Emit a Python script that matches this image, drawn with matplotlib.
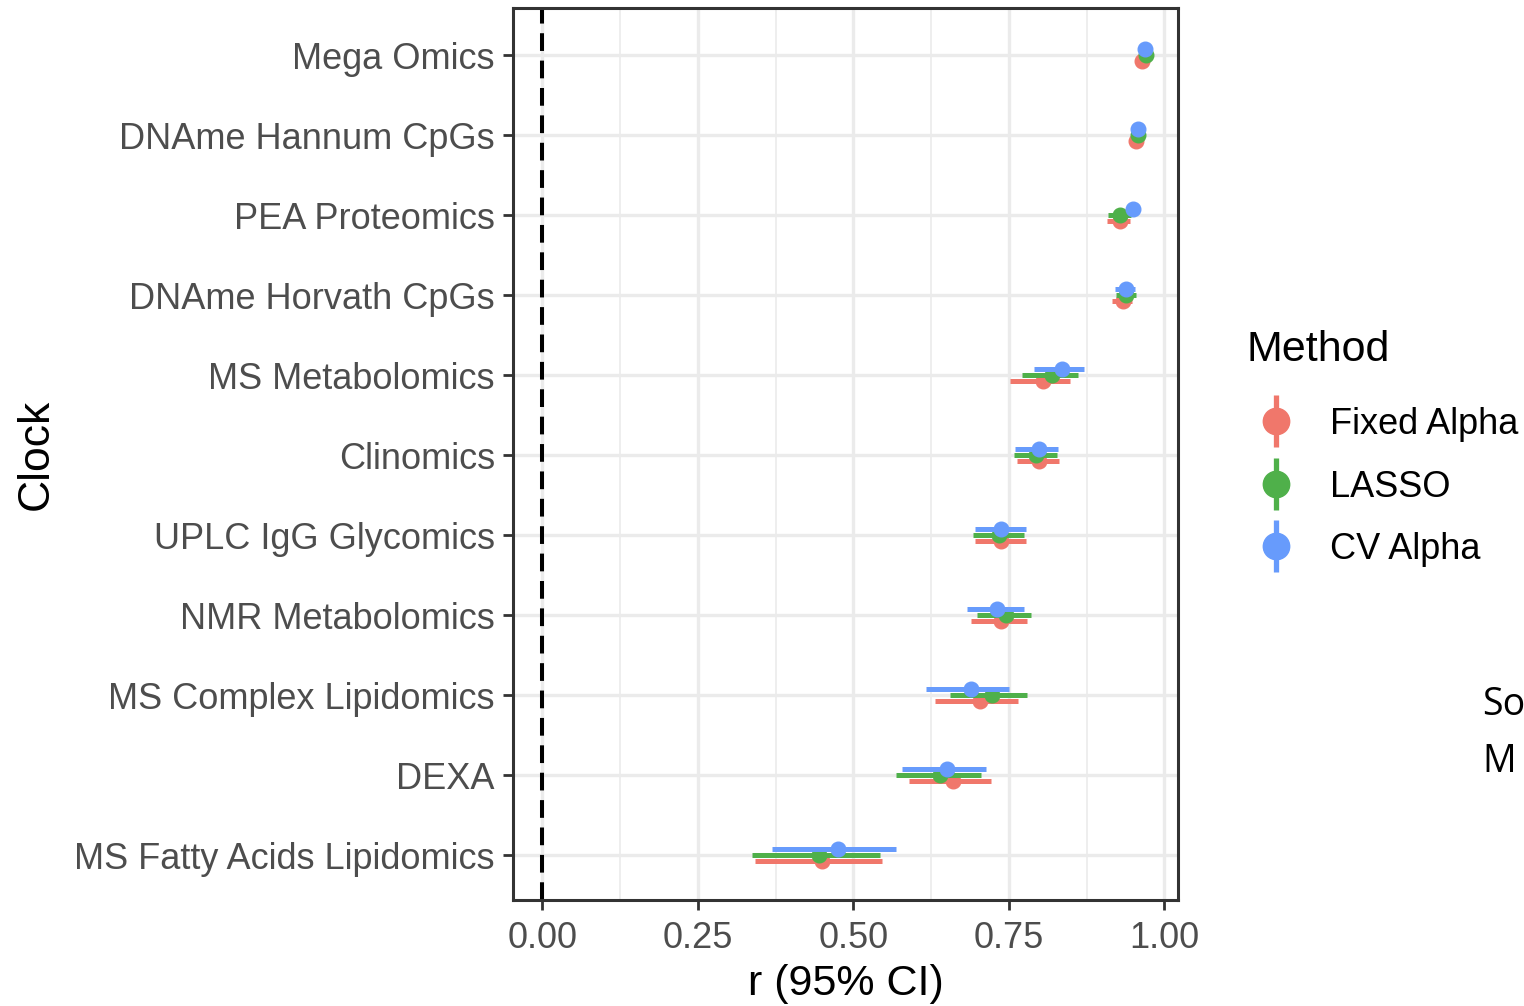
import matplotlib
matplotlib.use("Agg")
import matplotlib.pyplot as plt
from matplotlib.lines import Line2D
from matplotlib.legend_handler import HandlerTuple
import numpy as np

plt.rcParams['font.family'] = ['Liberation Sans', 'DejaVu Sans']

clocks = ["Mega Omics", "DNAme Hannum CpGs", "PEA Proteomics", "DNAme Horvath CpGs",
          "MS Metabolomics", "Clinomics", "UPLC IgG Glycomics", "NMR Metabolomics",
          "MS Complex Lipidomics", "DEXA", "MS Fatty Acids Lipidomics"]
methods = ["Fixed Alpha", "LASSO", "CV Alpha"]
colors = ["#F0776B", "#4FB04A", "#679BFC"]

fixed_r  = [0.964, 0.955, 0.928, 0.934, 0.805, 0.799, 0.738, 0.737, 0.703, 0.660, 0.450]
fixed_lo = [0.960, 0.951, 0.908, 0.916, 0.752, 0.763, 0.695, 0.690, 0.632, 0.589, 0.342]
fixed_hi = [0.968, 0.959, 0.945, 0.948, 0.848, 0.831, 0.778, 0.779, 0.764, 0.721, 0.546]

lasso_r  = [0.971, 0.958, 0.929, 0.939, 0.820, 0.794, 0.735, 0.746, 0.723, 0.640, 0.445]
lasso_lo = [0.968, 0.955, 0.909, 0.922, 0.772, 0.759, 0.692, 0.699, 0.656, 0.569, 0.337]
lasso_hi = [0.974, 0.961, 0.946, 0.954, 0.861, 0.827, 0.774, 0.786, 0.779, 0.706, 0.543]

cv_r  = [0.969, 0.957, 0.949, 0.938, 0.835, 0.798, 0.738, 0.731, 0.690, 0.651, 0.475]
cv_lo = [0.966, 0.954, 0.940, 0.921, 0.790, 0.760, 0.695, 0.683, 0.617, 0.579, 0.370]
cv_hi = [0.972, 0.960, 0.957, 0.953, 0.871, 0.829, 0.777, 0.774, 0.751, 0.713, 0.568]

series = [(fixed_r, fixed_lo, fixed_hi), (lasso_r, lasso_lo, lasso_hi), (cv_r, cv_lo, cv_hi)]
offsets = [0.07, 0.0, -0.07]

fig = plt.figure(figsize=(15.24, 10.06), dpi=100)
ax = fig.add_axes([513/1524, 1 - 900/1006, (1178-513)/1524, (900-8)/1006])

ypos = np.arange(len(clocks))
ax.set_xlim(-0.047, 1.022)
ax.set_ylim(len(clocks) - 1 + 0.5625, -0.5875)

# grid
ax.set_xticks([0, 0.25, 0.5, 0.75, 1.0])
ax.set_xticks([0.125, 0.375, 0.625, 0.875], minor=True)
ax.set_xticklabels(["0.00", "0.25", "0.50", "0.75", "1.00"])
ax.set_yticks(ypos)
ax.set_yticklabels(clocks)
ax.grid(True, which='major', color='#EBEBEB', linewidth=2.4)
ax.grid(True, which='minor', axis='x', color='#EBEBEB', linewidth=1.2)
ax.set_axisbelow(True)

ax.axvline(0, color='black', linestyle=(0, (4.4, 2.4)), linewidth=2.9, zorder=2)

for k, (r, lo, hi) in enumerate(series):
    r = np.array(r); lo = np.array(lo); hi = np.array(hi)
    y = ypos + offsets[k]
    ax.errorbar(r, y, xerr=[r - lo, hi - r], fmt='o', color=colors[k], ms=10.5,
                elinewidth=3.6, capsize=0, zorder=3 + k)

for s in ax.spines.values():
    s.set_color('#333333')
    s.set_linewidth(2.2)

ax.tick_params(axis='y', which='major', length=7, width=2, color='#333333',
               labelsize=26, labelcolor='#4D4D4D', pad=6)
ax.tick_params(axis='x', which='major', length=7, width=2, color='#333333',
               labelsize=26, labelcolor='#4D4D4D', pad=8)
ax.tick_params(axis='x', which='minor', length=0)
ax.set_xlabel("r (95% CI)", fontsize=31, color='black', labelpad=6)
ax.set_ylabel("Clock", fontsize=32, color='black', labelpad=13)

# legend
fig.text(1247/1524, 1 - 350/1006, "Method", fontsize=31, color='black',
         ha='left', va='center')
handles = [(Line2D([], [], marker='|', ms=37, mew=3.8, color=c, ls='none'),
            Line2D([], [], marker='o', ms=19, color=c, ls='none')) for c in colors]
leg = fig.legend(handles, methods, handler_map={tuple: HandlerTuple(ndivide=1)},
                 loc='center left', bbox_to_anchor=(1247/1524, 1 - 487/1006),
                 frameon=False, fontsize=26, borderaxespad=0, borderpad=0,
                 handlelength=1.6, handletextpad=0.69, labelspacing=0.76)

fig.text(1482/1524, 1 - 705/1006, "So", fontsize=27, family=['Open Sans', 'DejaVu Sans'],
         va='center', ha='left', color='black')
fig.text(1482/1524, 1 - 762/1006, "M", fontsize=27, family=['Open Sans', 'DejaVu Sans'],
         va='center', ha='left', color='black')

fig.savefig("out.png", dpi=100)
